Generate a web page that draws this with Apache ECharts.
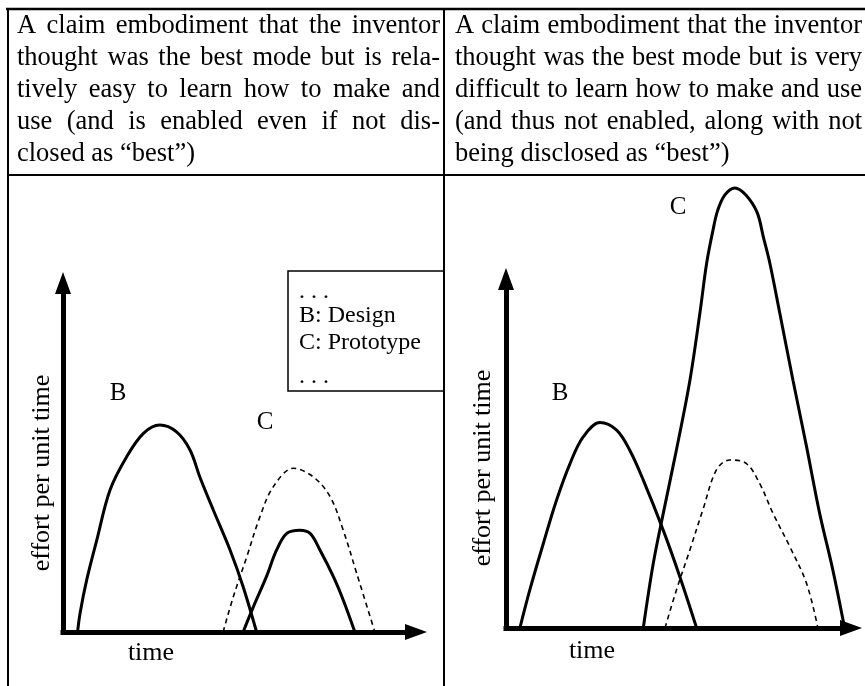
<!DOCTYPE html>
<html>
<head>
<meta charset="utf-8">
<script src="https://cdn.jsdelivr.net/npm/echarts@6/dist/echarts.min.js"></script>
<style>
  html, body { margin: 0; padding: 0; background: #fff; }
  #chart { width: 865px; height: 686px; }
</style>
</head>
<body>
<div id="chart"></div>
<script>
// header cells, one entry per printed line
const leftHeader = [
  'A claim embodiment that the inventor',
  'thought was the best mode but is rela-',
  'tively easy to learn how to make and',
  'use (and is enabled even if not dis-',
  'closed as \u201cbest\u201d)'
]
const rightHeader = [
  'A claim embodiment that the inventor',
  'thought was the best mode but is very',
  'difficult to learn how to make and use',
  '(and thus not enabled, along with not',
  'being disclosed as \u201cbest\u201d)'
]
const legendLines = ['. . .', 'B: Design', 'C: Prototype', '. . .']
const axisNames = { x: 'time', y: 'effort per unit time' }

// curves as [time, effort], axis runs 0..97 on both panels
const leftDesign = [
  [4, 0], [4.7, 5.3], [6.5, 14.4], [9.3, 25.6], [12.9, 39.4], [17.5, 48.7],
  [22.1, 55.2], [26.6, 57.5], [31.2, 55.6], [34.9, 50.6], [37.6, 43.1],
  [41.3, 33.9], [45.9, 22.8], [49.5, 12.6], [53.2, 0]
]
const leftProtoBest = [
  [44, 0], [46.8, 9.8], [50.5, 20.9], [54.1, 32], [57.8, 40.4], [63.3, 45.5],
  [68.8, 43.1], [73.4, 37.6], [77, 28.3], [80.7, 16.3], [85.7, 0]
]
const leftProto = [
  [49.5, 0], [52.3, 7], [55.9, 15.4], [58.7, 22.8], [61.5, 27.4], [65.1, 28.3],
  [67.9, 27.4], [70.6, 22.8], [74.3, 15.4], [77, 8.9], [80.2, 0]
]
const rightDesign = [
  [3.9, 0], [6.7, 10.6], [10.5, 23.5], [14.2, 35.5], [18, 45.7], [21.7, 53.1],
  [26.4, 57.1], [31.1, 55], [34.8, 49.4], [38.6, 41.1], [44.2, 27.2],
  [48.9, 14.2], [53.6, 0]
]
const rightProto = [
  [38.6, 0], [41.4, 17.9], [44.2, 31.8], [47.9, 49.4], [51.7, 68.8], [54.5, 87.4],
  [56.4, 101.3], [58.2, 110.6], [59.5, 116], [61.5, 120.3], [64.3, 122.3],
  [67.5, 120.3], [70.6, 115.5], [72.4, 108.5], [74.2, 101.3], [77, 87.4],
  [80.7, 68.8], [84.5, 50.4], [88.2, 31.8], [91.9, 16.1], [95.2, 0]
]
const rightProtoBest = [
  [44.7, 0], [47.9, 10.5], [51.7, 21.7], [55.4, 33], [59.2, 44], [62.9, 46.7],
  [67.6, 45.7], [71.3, 40.2], [75.1, 31.8], [79.8, 22.6], [84.5, 12.4], [87.7, 0]
]

const serif = '"Liberation Serif", "Times New Roman", serif'
const headSize = 26.5

function txt(text, x, y, size, extra) {
  return {
    type: 'text', x: x, y: y, silent: true,
    style: Object.assign({
      text: text, fill: '#000', fontSize: size, fontFamily: serif,
      verticalAlign: 'middle'
    }, extra || {})
  }
}

// justified header text, last line left as is
const ctx = document.createElement('canvas').getContext('2d')
function headerText(lines, x0, x1, y0, pitch) {
  const els = []
  ctx.font = headSize + 'px ' + serif
  lines.forEach((line, i) => {
    const y = y0 + i * pitch
    const words = line.split(' ')
    if (i === lines.length - 1) {
      els.push(txt(line, x0, y, headSize))
      return
    }
    const widths = words.map(w => ctx.measureText(w).width)
    const used = widths.reduce((a, b) => a + b, 0)
    const gap = (x1 - x0 - used) / (words.length - 1)
    let x = x0
    words.forEach((w, j) => {
      els.push(txt(w, x, y, headSize))
      x += widths[j] + gap
    })
  })
  return els
}

function hline(x1, x2, y, w) {
  return { type: 'line', silent: true, shape: { x1: x1, y1: y, x2: x2, y2: y }, style: { stroke: '#000', lineWidth: w } }
}
function vline(x, y1, y2, w) {
  return { type: 'line', silent: true, shape: { x1: x, y1: y1, x2: x, y2: y2 }, style: { stroke: '#000', lineWidth: w } }
}

function axis(gridIndex) {
  return {
    gridIndex: gridIndex, type: 'value', min: 0, max: 97,
    axisLine: {
      show: true, onZero: false,
      symbol: ['none', 'triangle'], symbolSize: [16, 22],
      lineStyle: { color: '#000', width: 5, cap: 'square' }
    },
    axisTick: { show: false }, axisLabel: { show: false }, splitLine: { show: false }
  }
}

function curve(data, gridIndex, dashed) {
  return {
    type: 'line', data: data, xAxisIndex: gridIndex, yAxisIndex: gridIndex,
    showSymbol: false, smooth: 0.35, clip: false, silent: true,
    lineStyle: dashed
      ? { color: '#000', width: 1.6, type: [5, 4] }
      : { color: '#000', width: 3 }
  }
}

const graphics = [].concat(
  [
    hline(6, 865, 9, 2.5),
    vline(8, 8, 686, 2),
    vline(444, 8, 686, 2),
    hline(8, 865, 175, 2),
    { type: 'rect', silent: true, shape: { x: 288, y: 271, width: 156, height: 120 },
      style: { fill: 'none', stroke: '#000', lineWidth: 1.5 } }
  ],
  headerText(leftHeader, 17, 440, 26, 32),
  headerText(rightHeader, 455, 862, 26, 32),
  legendLines.map((t, i) => txt(t, 299, [292, 316, 343, 377][i], 24)),
  [
    txt(axisNames.x, 151, 653, 26, { align: 'center' }),
    txt(axisNames.x, 592, 651, 26, { align: 'center' }),
    Object.assign(txt(axisNames.y, 42, 473, 26, { align: 'center' }), { rotation: Math.PI / 2 }),
    Object.assign(txt(axisNames.y, 483, 468, 26, { align: 'center' }), { rotation: Math.PI / 2 }),
    txt('B', 118, 393, 25, { align: 'center' }),
    txt('C', 265, 422, 25, { align: 'center' }),
    txt('B', 560, 393, 25, { align: 'center' }),
    txt('C', 678, 207, 25, { align: 'center' })
  ]
)

const chart = echarts.init(document.getElementById('chart'), null, { renderer: 'canvas' })
chart.setOption({
  animation: false,
  backgroundColor: '#fff',
  grid: [
    { left: 63, top: 283, width: 353, height: 349 },
    { left: 506, top: 279, width: 345, height: 349 }
  ],
  xAxis: [axis(0), axis(1)],
  yAxis: [axis(0), axis(1)],
  series: [
    curve(leftDesign, 0, false),
    curve(leftProtoBest, 0, true),
    curve(leftProto, 0, false),
    curve(rightDesign, 1, false),
    curve(rightProto, 1, false),
    curve(rightProtoBest, 1, true)
  ],
  graphic: graphics
})
</script>
</body>
</html>
